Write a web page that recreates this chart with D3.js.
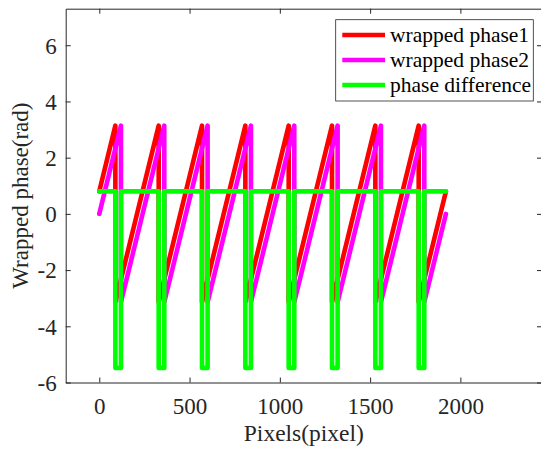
<!DOCTYPE html>
<html>
<head>
<meta charset="utf-8">
<script src="https://cdn.jsdelivr.net/npm/d3@7"></script>
<style>
  html, body { margin: 0; padding: 0; background: #fff; }
  svg { display: block; }
  text { font-family: "Liberation Serif", "Times New Roman", serif; fill: #262626; }
</style>
</head>
<body>
<svg id="chart" width="541" height="451"></svg>
<script>
// ---- data ----
const phase1X = [0, 89, 89, 329, 329, 569, 569, 809, 809, 1049, 1049, 1289, 1289, 1529, 1529, 1769, 1769, 1920];
const phase1Y = [0.8, 3.14, -3.14, 3.14, -3.14, 3.14, -3.14, 3.14, -3.14, 3.14, -3.14, 3.14, -3.14, 3.14, -3.14, 3.14, -3.14, 0.8];
const phase2X = [0, 120, 120, 360, 360, 600, 600, 840, 840, 1080, 1080, 1320, 1320, 1560, 1560, 1800, 1800, 1920];
const phase2Y = [0, 3.14, -3.14, 3.14, -3.14, 3.14, -3.14, 3.14, -3.14, 3.14, -3.14, 3.14, -3.14, 3.14, -3.14, 3.14, -3.14, 0];
const diffX = [0, 89, 89, 120, 120, 329, 329, 360, 360, 569, 569, 600, 600, 809, 809, 840, 840,
               1049, 1049, 1080, 1080, 1289, 1289, 1320, 1320, 1529, 1529, 1560, 1560, 1769, 1769, 1800, 1800, 1920];
const diffY = [0.8, 0.8, -5.48, -5.48, 0.8, 0.8, -5.48, -5.48, 0.8, 0.8, -5.48, -5.48, 0.8, 0.8, -5.48, -5.48, 0.8,
               0.8, -5.48, -5.48, 0.8, 0.8, -5.48, -5.48, 0.8, 0.8, -5.48, -5.48, 0.8, 0.8, -5.48, -5.48, 0.8, 0.8];
const seriesNames = ["wrapped phase1", "wrapped phase2", "phase difference"];
const seriesColors = ["#ff0000", "#ff00ff", "#00ff00"];
const xTicks = [0, 500, 1000, 1500, 2000];
const yTicks = [-6, -4, -2, 0, 2, 4, 6];
const xDomain = [-186, 2452];
const yDomain = [-6, 7.3];

// ---- layout ----
const L = 65.7, R = 542, T = 8.7, B = 382.5;
const svg = d3.select("#chart");
const x = d3.scaleLinear().domain(xDomain).range([L, R]);
const y = d3.scaleLinear().domain(yDomain).range([B, T]);
const fmt = d => String(d);

const axisColor = "#262626";
function styleAxis(g, showText) {
  g.attr("font-family", null).attr("font-size", null);
  g.select(".domain").attr("stroke", axisColor).attr("stroke-width", 1);
  g.selectAll(".tick line").attr("stroke", axisColor).attr("stroke-width", 1);
  if (!showText) g.selectAll(".tick text").remove();
}

// bottom
const gb = svg.append("g").attr("transform", `translate(0,${B})`)
  .call(d3.axisBottom(x).tickValues(xTicks).tickFormat(fmt).tickSizeInner(-5).tickSizeOuter(0).tickPadding(0));
styleAxis(gb, true);
gb.selectAll(".tick text").attr("y", 31).attr("dy", null)
  .style("font-size", "23px").attr("fill", axisColor);

// top
const gt = svg.append("g").attr("transform", `translate(0,${T})`)
  .call(d3.axisTop(x).tickValues(xTicks).tickSizeInner(-5).tickSizeOuter(0));
styleAxis(gt, false);

// left
const gl = svg.append("g").attr("transform", `translate(${L},0)`)
  .call(d3.axisLeft(y).tickValues(yTicks).tickFormat(fmt).tickSizeInner(-5).tickSizeOuter(0).tickPadding(0));
styleAxis(gl, true);
gl.selectAll(".tick text").attr("x", -9).attr("dy", "0.34em")
  .style("font-size", "23px").attr("fill", axisColor).attr("text-anchor", "end");

// right
const gr = svg.append("g").attr("transform", `translate(${R},0)`)
  .call(d3.axisRight(y).tickValues(yTicks).tickSizeInner(-5).tickSizeOuter(0));
styleAxis(gr, false);

// axis labels
svg.append("text").attr("x", (L + R) / 2).attr("y", 441)
  .attr("text-anchor", "middle").style("font-size", "23.5px").text("Pixels(pixel)");
svg.append("text").attr("transform", `translate(28,${(T + B) / 2}) rotate(-90)`)
  .attr("text-anchor", "middle").style("font-size", "23px").text("Wrapped phase(rad)");

// ---- lines ----
const line = d3.line().x(d => x(d[0])).y(d => y(d[1]));
const series = [
  d3.zip(phase1X, phase1Y),
  d3.zip(phase2X, phase2Y),
  d3.zip(diffX, diffY)
];
const plot = svg.append("g");
series.forEach((pts, i) => {
  plot.append("path").attr("d", line(pts))
    .attr("fill", "none").attr("stroke", seriesColors[i])
    .attr("stroke-width", 4.6).attr("stroke-linejoin", "round").attr("stroke-linecap", "round");
});

// ---- legend ----
const lg = svg.append("g");
lg.append("rect").attr("x", 335.7).attr("y", 19.7).attr("width", 197.6).attr("height", 81.3)
  .attr("fill", "#fff").attr("stroke", axisColor).attr("stroke-width", 0.8);
const rowY = [35, 60, 85];
seriesNames.forEach((name, i) => {
  lg.append("line").attr("x1", 342.3).attr("x2", 385).attr("y1", rowY[i]).attr("y2", rowY[i])
    .attr("stroke", seriesColors[i]).attr("stroke-width", 4.6);
  lg.append("text").attr("x", 390).attr("y", rowY[i] + 6.5)
    .style("font-size", "21.5px").style("fill", "#000").text(name);
});
</script>
</body>
</html>
